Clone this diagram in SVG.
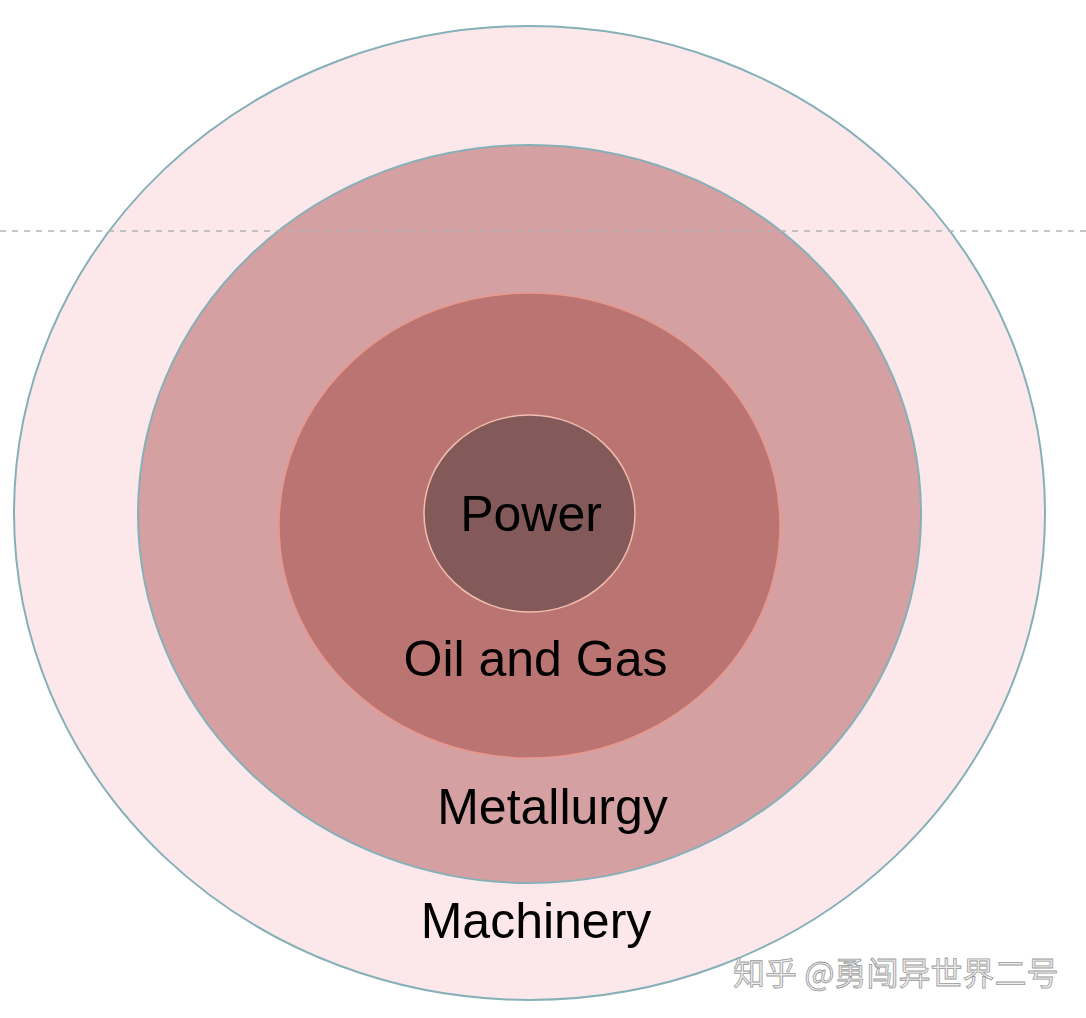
<svg xmlns="http://www.w3.org/2000/svg" width="1086" height="1018" viewBox="0 0 1086 1018">
<style>
.lbl{font-family:"Liberation Sans",Arial,sans-serif;font-size:50px;fill:#000;text-anchor:middle}
.wm{font-family:"Noto Sans CJK SC","Liberation Sans",sans-serif;font-size:32px;fill:#eeeeee;stroke:#9a9a9a;stroke-width:0.8}
</style>
<rect width="1086" height="1018" fill="#ffffff"/>
<g id="machinery">
<ellipse cx="529.5" cy="513" rx="515.5" ry="487" fill="#fce8ea" stroke="#86b0b8" stroke-width="2"/>
<text class="lbl" x="536" y="938">Machinery</text>
</g>
<g id="metallurgy">
<ellipse cx="529.5" cy="514" rx="391.5" ry="369" fill="#d4a0a1" stroke="#86b0b8" stroke-width="2"/>
<text class="lbl" x="552.5" y="824">Metallurgy</text>
</g>
<g id="oilgas">
<ellipse cx="529.5" cy="525.5" rx="250.5" ry="232.5" fill="#ba7471" stroke="#e9988c" stroke-width="1.5"/>
<text class="lbl" x="535.5" y="676">Oil and Gas</text>
</g>
<g id="power">
<ellipse cx="529.5" cy="513.5" rx="105.5" ry="98.5" fill="#835a59" stroke="#f2bcae" stroke-width="1.5"/>
<text class="lbl" x="531" y="531">Power</text>
</g>
<g id="connectors">
<line x1="0" y1="231" x2="1086" y2="231" stroke="#b3b3b3" stroke-width="1.5" stroke-dasharray="6 6"/>
</g>
<text class="wm" x="733" y="985">知乎 @勇闯异世界二号</text>
</svg>
